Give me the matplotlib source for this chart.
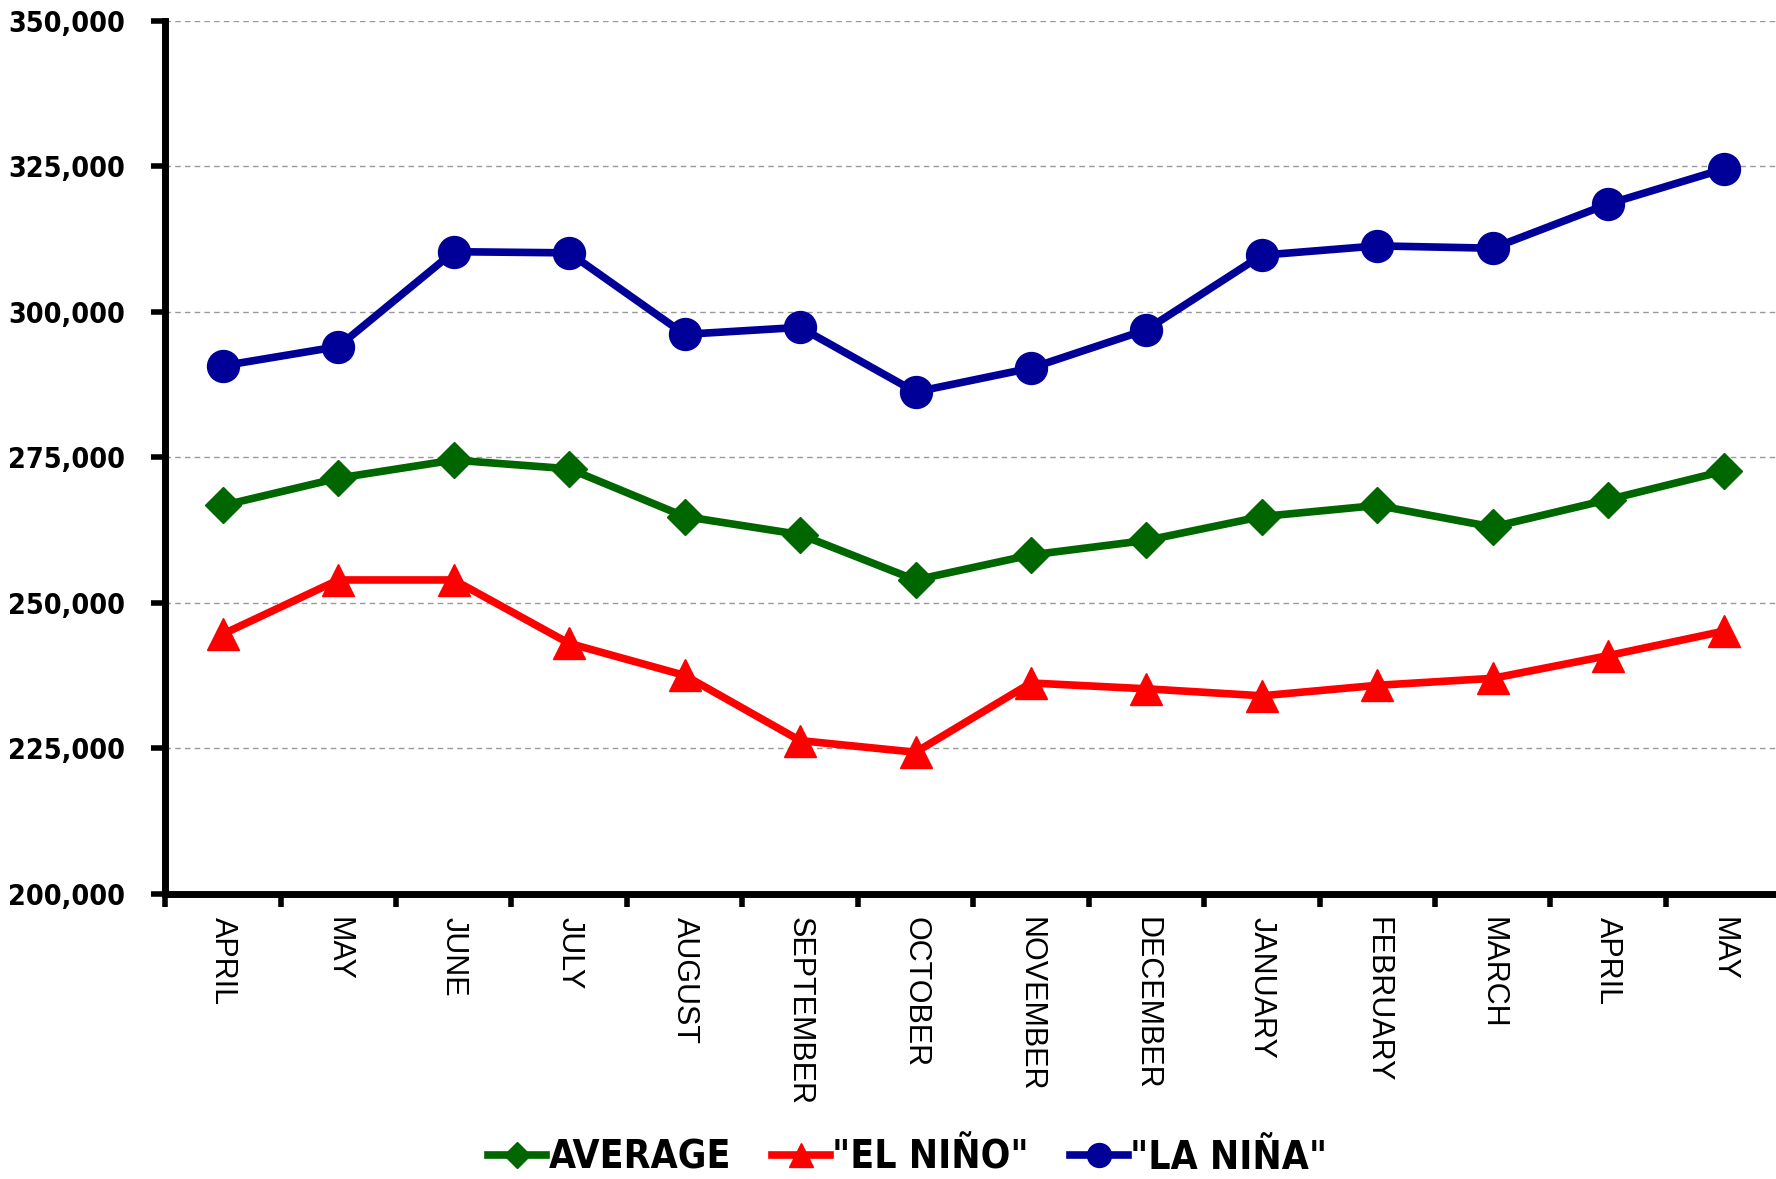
import numpy as np
import matplotlib.pyplot as plt
from matplotlib import font_manager
from matplotlib.ticker import FuncFormatter

MONTHS = ["APRIL", "MAY", "JUNE", "JULY", "AUGUST", "SEPTEMBER", "OCTOBER",
          "NOVEMBER", "DECEMBER", "JANUARY", "FEBRUARY", "MARCH", "APRIL", "MAY"]

AVERAGE = [266700, 271400, 274500, 273000, 264800, 261700, 253900,
           258200, 260700, 264800, 266700, 263000, 267700, 272600]
EL_NINO = [244600, 253900, 253900, 243000, 237500, 226300, 224300,
           236200, 235200, 234000, 235800, 237000, 240900, 245100]
LA_NINA = [290700, 294000, 310300, 310100, 296100, 297300, 286200,
           290300, 296900, 309700, 311300, 310900, 318500, 324500]

Y_TICKS = [200000, 225000, 250000, 275000, 300000, 325000, 350000]


def narrow_bold():
    # look for any installed condensed / narrow bold face
    for f in font_manager.fontManager.ttflist:
        name = f.fname.lower()
        if ("narrow" in name or "condensed" in name) and "bold" in name \
                and "oblique" not in name and "italic" not in name:
            return font_manager.FontProperties(fname=f.fname)
    return None


fp = narrow_bold()
found = fp is not None
if not found:
    fp = font_manager.FontProperties(family="Liberation Sans", weight="bold")

fig = plt.figure(figsize=(17.76, 11.79), dpi=100)
ax = fig.add_axes([0.093, 0.242, 0.91, 0.7405])

x = np.arange(len(MONTHS))
ax.plot(x, AVERAGE, color="#006600", lw=5.5, marker="D", ms=18,
        label="AVERAGE", zorder=3)
ax.plot(x, EL_NINO, color="#FF0000", lw=5.5, marker="^", ms=23,
        label='"EL NIÑO"', zorder=3)
ax.plot(x, LA_NINA, color="#000099", lw=5.5, marker="o", ms=23,
        label='"LA NIÑA"', zorder=3)

ax.set_xlim(-0.5, len(MONTHS) - 0.5)
ax.set_ylim(200000, 350000)
ax.set_yticks(Y_TICKS)
ax.yaxis.set_major_formatter(FuncFormatter(lambda v, p: f"{int(v):,}"))
for lab in ax.get_yticklabels():
    lab.set_fontproperties(fp)
    lab.set_fontsize(20.5 if found else 18)

# month names sit between boundary ticks
ax.set_xticks(x)
ax.set_xticklabels(MONTHS, rotation=270, fontsize=22,
                   family=["Liberation Sans", "DejaVu Sans"],
                   va="top", ha="center")
ax.tick_params(axis="x", which="major", length=0, pad=17)
ax.set_xticks(np.arange(-0.5, len(MONTHS)), minor=True)
ax.tick_params(axis="x", which="minor", length=9, width=4, direction="out")
ax.tick_params(axis="y", length=10, width=4, direction="out", pad=19)

ax.grid(axis="y", color="#999999", linestyle=(0, (4, 3)), linewidth=1)
ax.set_axisbelow(True)
for side in ("top", "right"):
    ax.spines[side].set_visible(False)
for side in ("left", "bottom"):
    ax.spines[side].set_linewidth(5)

leg_fp = fp.copy()
leg_fp.set_size(28 if found else 25)
fig.legend(loc="center", bbox_to_anchor=(0.511, 0.018), ncol=3, frameon=False,
           prop=leg_fp, handlelength=1.5, handletextpad=0.05,
           columnspacing=1.05, markerscale=0.75)

fig.savefig("out.png", dpi=100)
